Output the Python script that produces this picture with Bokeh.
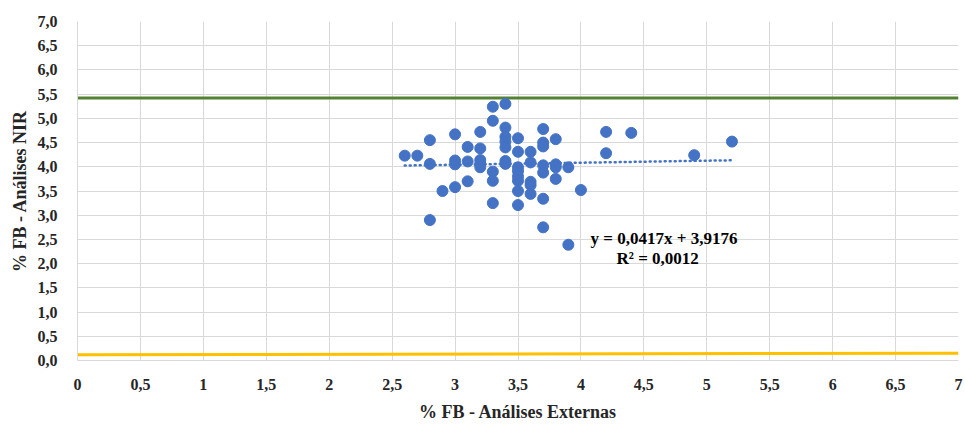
from bokeh.plotting import figure
from bokeh.models import FixedTicker, Label, ColumnDataSource, Range1d
from bokeh.embed import file_html
from bokeh.resources import INLINE

x_ext = [2.6, 2.7, 2.8, 2.8, 2.8, 2.9, 3.0, 3.0, 3.0, 3.0, 3.1, 3.1, 3.1,
         3.2, 3.2, 3.2, 3.2, 3.2, 3.3, 3.3, 3.3, 3.3, 3.3,
         3.4, 3.4, 3.4, 3.4, 3.4, 3.4, 3.4,
         3.5, 3.5, 3.5, 3.5, 3.5, 3.5, 3.5, 3.5,
         3.6, 3.6, 3.6, 3.6, 3.6,
         3.7, 3.7, 3.7, 3.7, 3.7, 3.7, 3.7,
         3.8, 3.8, 3.8, 3.8, 3.9, 3.9, 4.0, 4.2, 4.2, 4.4, 4.9, 5.2]
y_nir = [4.23, 4.23, 4.55, 4.06, 2.90, 3.50, 4.67, 4.13, 4.05, 3.58, 4.41, 4.11, 3.70,
         4.72, 4.38, 4.14, 4.06, 3.99, 5.24, 4.95, 3.90, 3.71, 3.25,
         5.30, 4.81, 4.62, 4.52, 4.40, 4.12, 4.06,
         4.59, 4.31, 3.99, 3.91, 3.80, 3.71, 3.50, 3.21,
         4.31, 4.09, 3.69, 3.62, 3.44,
         4.78, 4.50, 4.42, 4.03, 3.88, 3.34, 2.75,
         4.57, 4.05, 3.99, 3.75, 3.99, 2.39, 3.52, 4.72, 4.28, 4.70, 4.24, 4.52]

trend_slope = 0.0417
trend_intercept = 3.9176
trend_x = [2.6, 5.2]

green_x = [0, 7]
green_y = [5.42, 5.42]
yellow_x = [0, 7]
yellow_y = [0.12, 0.15]

x_ticks = [0, 0.5, 1, 1.5, 2, 2.5, 3, 3.5, 4, 4.5, 5, 5.5, 6, 6.5, 7]
x_tick_labels = ["0", "0,5", "1", "1,5", "2", "2,5", "3", "3,5", "4", "4,5", "5", "5,5", "6", "6,5", "7"]
y_ticks = [0, 0.5, 1, 1.5, 2, 2.5, 3, 3.5, 4, 4.5, 5, 5.5, 6, 6.5, 7]
y_tick_labels = ["0,0", "0,5", "1,0", "1,5", "2,0", "2,5", "3,0", "3,5", "4,0", "4,5", "5,0", "5,5", "6,0", "6,5", "7,0"]

FONT = "'Liberation Serif', 'Times New Roman', serif"

p = figure(width=965, height=424, output_backend="svg", toolbar_location=None,
           x_range=Range1d(0, 7), y_range=Range1d(0, 7),
           min_border_left=77, min_border_right=7, min_border_top=21, min_border_bottom=63)
p.outline_line_color = None
p.background_fill_color = "white"
p.border_fill_color = "white"

for ax in (p.xaxis[0], p.yaxis[0]):
    ax.major_tick_line_color = None
    ax.minor_tick_line_color = None
    ax.axis_line_color = "#D9D9D9"
    ax.major_label_text_font = FONT
    ax.major_label_text_font_style = "bold"
    ax.major_label_text_font_size = "16px"
    ax.major_label_text_color = "#262626"
    ax.axis_label_text_font = FONT
    ax.axis_label_text_font_style = "bold"
    ax.axis_label_text_font_size = "18px"
    ax.axis_label_text_color = "#262626"

p.xaxis.ticker = FixedTicker(ticks=x_ticks)
p.xaxis.major_label_overrides = {t: l for t, l in zip(x_ticks, x_tick_labels)}
p.yaxis.ticker = FixedTicker(ticks=y_ticks)
p.yaxis.major_label_overrides = {t: l for t, l in zip(y_ticks, y_tick_labels)}
p.xaxis.axis_label = "% FB - Análises Externas"
p.yaxis.axis_label = "% FB - Análises NIR"
p.xaxis.major_label_standoff = 12
p.yaxis.major_label_standoff = 14
p.xaxis.axis_label_standoff = 9
p.yaxis.axis_label_standoff = 5

p.xgrid.ticker = FixedTicker(ticks=x_ticks)
p.ygrid.ticker = FixedTicker(ticks=y_ticks)
p.grid.grid_line_color = "#D9D9D9"
p.grid.grid_line_width = 1

p.line(green_x, green_y, line_color="#548235", line_width=3)
p.line(yellow_x, yellow_y, line_color="#FFC000", line_width=3)

src = ColumnDataSource(dict(x=x_ext, y=y_nir))
p.scatter("x", "y", source=src, size=11, fill_color="#4472C4", line_color="#4472C4")

trend_y = [trend_slope * v + trend_intercept for v in trend_x]
p.line(trend_x, trend_y, line_color="#4472C4", line_width=2.5, line_dash="1 4", line_cap="round")

lab1 = Label(x=4.66, y=2.52, text="y = 0,0417x + 3,9176", text_font=FONT, text_font_style="bold",
             text_font_size="17px", text_align="center", text_baseline="middle", text_color="#000000")
lab2 = Label(x=4.61, y=2.11, text="R² = 0,0012", text_font=FONT, text_font_style="bold",
             text_font_size="17px", text_align="center", text_baseline="middle", text_color="#000000")
p.add_layout(lab1)
p.add_layout(lab2)

open("out.html", "w").write(file_html(p, INLINE))
